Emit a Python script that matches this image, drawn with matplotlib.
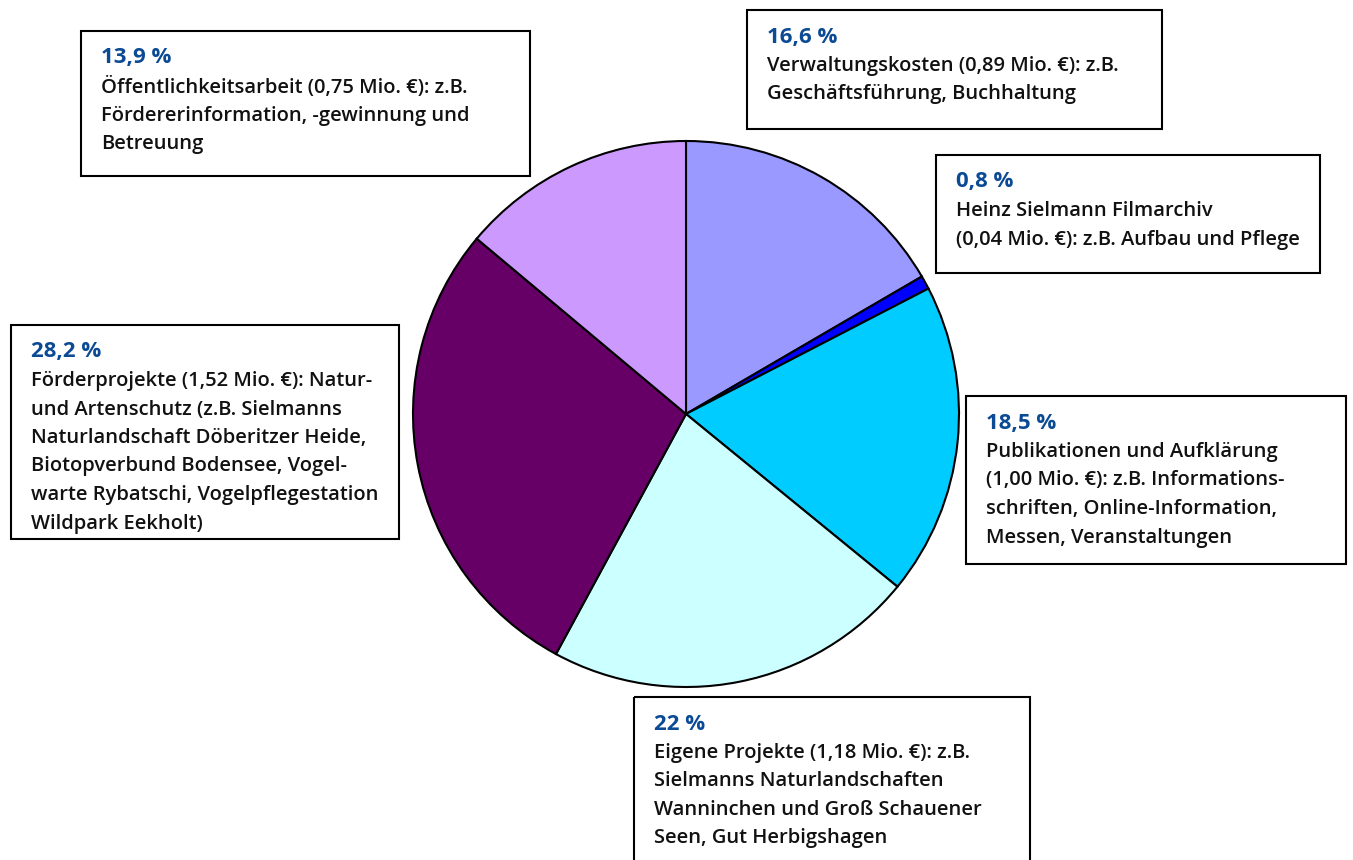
import matplotlib
matplotlib.use("Agg")
import matplotlib.pyplot as plt
from matplotlib.patches import Rectangle

# Daten (Anteile in %), im Uhrzeigersinn ab 12 Uhr
shares = [16.6, 0.8, 18.5, 22.0, 28.2, 13.9]
colors = ["#9999FF", "#0000FF", "#00CCFF", "#CCFFFF", "#660066", "#CC99FF"]
titles = ["16,6 %", "0,8 %", "18,5 %", "22 %", "28,2 %", "13,9 %"]
bodies = [
    ["Verwaltungskosten (0,89 Mio. €): z.B.", "Geschäftsführung, Buchhaltung"],
    ["Heinz Sielmann Filmarchiv", "(0,04 Mio. €): z.B. Aufbau und Pflege"],
    ["Publikationen und Aufklärung", "(1,00 Mio. €): z.B. Informations-",
     "schriften, Online-Information,", "Messen, Veranstaltungen"],
    ["Eigene Projekte (1,18 Mio. €): z.B.", "Sielmanns Naturlandschaften",
     "Wanninchen und Groß Schauener", "Seen, Gut Herbigshagen"],
    ["Förderprojekte (1,52 Mio. €): Natur-", "und Artenschutz (z.B. Sielmanns",
     "Naturlandschaft Döberitzer Heide,", "Biotopverbund Bodensee, Vogel-",
     "warte Rybatschi, Vogelpflegestation", "Wildpark Eekholt)"],
    ["Öffentlichkeitsarbeit (0,75 Mio. €): z.B.", "Fördererinformation, -gewinnung und",
     "Betreuung"],
]
# Boxen: (x, y, breite, hoehe) in Pixeln
boxes = [(747, 10, 415, 119), (936, 155, 384, 118), (966, 396, 380, 168),
         (634, 697, 396, 170), (11, 325, 388, 214), (81, 31, 449, 145)]

W, H = 1353, 860
fig = plt.figure(figsize=(W / 100, H / 100), dpi=100)
ax = fig.add_axes([0, 0, 1, 1])

# y-Achse ist invertiert -> Start bei -90 Grad = oben, gegen den Uhrzeigersinn = im Uhrzeigersinn
ax.pie(shares, colors=colors, startangle=-90, counterclock=True,
       center=(686, 414), radius=273,
       wedgeprops=dict(edgecolor="black", linewidth=1.5))
ax.set_xlim(0, W)
ax.set_ylim(H, 0)
ax.set_aspect("equal")
ax.axis("off")

font = ["Open Sans", "DejaVu Sans"]
for (x, y, w, h), t, lines in zip(boxes, titles, bodies):
    ax.add_patch(Rectangle((x, y), w, h, fill=False, edgecolor="black",
                           linewidth=1.5, clip_on=False))
    ax.text(x + 20, y + 27, t, color="#0B4A94", fontsize=16, fontweight="bold",
            family=font, va="center")
    for i, line in enumerate(lines):
        ax.text(x + 20, y + 56 + i * 28.5, line, color="#111111", fontsize=14.5,
                fontweight="semibold", family=font, va="center")

fig.savefig("out.png", dpi=100)
